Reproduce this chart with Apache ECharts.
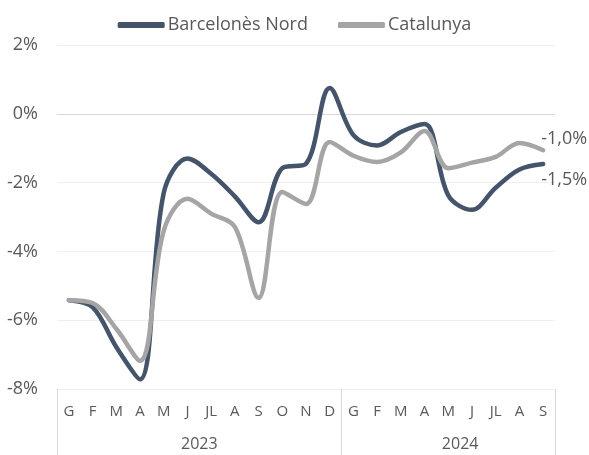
<!DOCTYPE html>
<html>
<head>
<meta charset="utf-8">
<script src="https://cdn.jsdelivr.net/npm/echarts@6/dist/echarts.min.js"></script>
<style>html,body{margin:0;padding:0;background:#fff;}#c{width:589px;height:455px;}</style>
</head>
<body>
<div id="c"></div>
<script>
const months = ['G','F','M','A','M','J','JL','A','S','O','N','D','G','F','M','A','M','J','JL','A','S'];
const years = ['2023','2024'];
const yearStartIndex = [0, 12];
const yearLabelIndex = [5, 16];
const seriesNames = ['Barcelonès Nord', 'Catalunya'];
const barcelonesNord = [-5.42, -5.62, -6.78, -7.72, -2.3, -1.3, -1.74, -2.4, -3.15, -1.58, -1.45, 0.75, -0.62, -0.92, -0.53, -0.3, -2.37, -2.79, -2.15, -1.62, -1.46];
const catalunya = [-5.42, -5.5, -6.25, -7.18, -3.4, -2.47, -2.9, -3.29, -5.35, -2.27, -2.62, -0.82, -1.22, -1.40, -1.12, -0.5, -1.58, -1.42, -1.25, -0.85, -1.06];
const endLabels = ['-1,5%', '-1,0%'];
const yTicks = {min: -8, max: 2, interval: 2};

const FONT = 'Open Sans';
const TXT = '#595959';
const chart = echarts.init(document.getElementById('c'), null, {renderer: 'canvas'});
chart.setOption({
  animation: false,
  backgroundColor: '#ffffff',
  textStyle: {fontFamily: FONT},
  legend: {
    top: 11, left: 'center',
    itemWidth: 47, itemHeight: 6, itemGap: 30,
    icon: 'roundRect',
    textStyle: {fontFamily: FONT, fontSize: 18, color: TXT, padding: [0,0,0,-2]},
    data: seriesNames
  },
  grid: {left: 57, right: 34, top: 45, bottom: 66, containLabel: false},
  xAxis: [{
    type: 'category', data: months, boundaryGap: true,
    axisLine: {show: false}, axisTick: {show: false},
    axisLabel: {interval: 0, margin: 15, fontFamily: FONT, fontSize: 15, color: TXT}
  }, {
    type: 'category', data: months, boundaryGap: true, position: 'bottom', offset: 0,
    axisLine: {show: false},
    axisTick: {show: true, length: 66, lineStyle: {color: '#d9d9d9', width: 1},
      interval: function (i) { return yearStartIndex.indexOf(i) >= 0; }},
    axisLabel: {
      interval: function (i) { return yearLabelIndex.indexOf(i) >= 0; },
      margin: 47, fontFamily: FONT, fontSize: 16, color: TXT,
      formatter: function (v, i) { return '{y|' + years[yearLabelIndex.indexOf(i)] + '}'; },
      rich: {y: {fontFamily: FONT, fontSize: 16, color: TXT, padding: [0, 0, 0, 23.7]}}
    }
  }],
  yAxis: {
    type: 'value', min: yTicks.min, max: yTicks.max, interval: yTicks.interval,
    axisLine: {show: false}, axisTick: {show: false},
    axisLabel: {margin: 19, fontFamily: FONT, fontSize: 18, color: TXT,
      formatter: function (v) { return v + '%'; }},
    splitLine: {show: true, lineStyle: {width: 1,
      color: ['#efefef', '#efefef', '#efefef', '#efefef', '#d9d9d9', '#efefef']}}
  },
  series: [{
    name: seriesNames[0], type: 'line', data: barcelonesNord, smooth: 0.35,
    showSymbol: false, symbol: 'none',
    lineStyle: {color: '#44546a', width: 4.5, cap: 'round', join: 'round'},
    itemStyle: {color: '#44546a'},
    endLabel: {show: true, formatter: endLabels[0], distance: 0, offset: [-2, 16],
      fontFamily: FONT, fontSize: 18, color: TXT}
  }, {
    name: seriesNames[1], type: 'line', data: catalunya, smooth: 0.35,
    showSymbol: false, symbol: 'none',
    lineStyle: {color: '#a5a5a5', width: 4.5, cap: 'round', join: 'round'},
    itemStyle: {color: '#a5a5a5'},
    endLabel: {show: true, formatter: endLabels[1], distance: 0, offset: [-2, -11],
      fontFamily: FONT, fontSize: 18, color: TXT}
  }]
});
</script>
</body>
</html>
